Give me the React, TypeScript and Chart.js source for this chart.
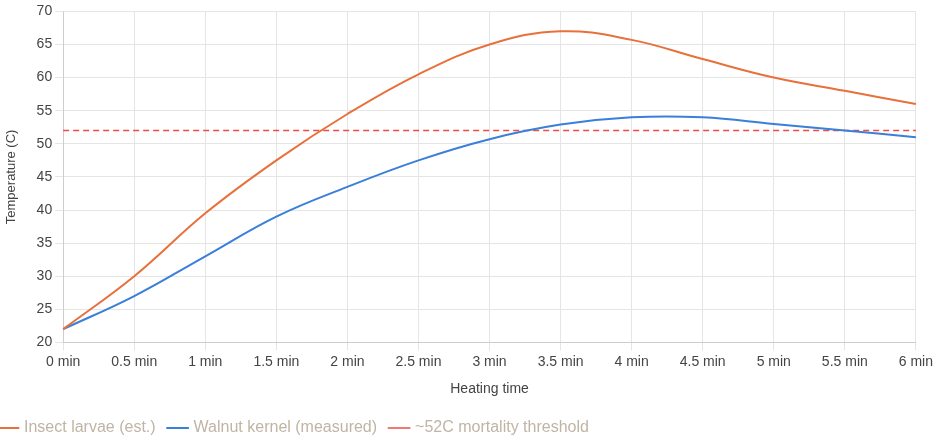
import React, { useEffect, useRef } from "react";
import { Chart, registerables } from "chart.js";
Chart.register(...registerables);

const labels = ["0 min","0.5 min","1 min","1.5 min","2 min","2.5 min","3 min","3.5 min","4 min","4.5 min","5 min","5.5 min","6 min"];
const larvae = [22, 30, 39.5, 47.5, 54.5, 60.5, 65, 67, 65.7, 62.8, 60, 58, 56];
const kernel = [22, 27, 33, 39, 43.5, 47.5, 50.7, 52.9, 54, 54, 53, 52, 51];
const threshold = labels.map(() => 52);

const F = "Helvetica, Arial, sans-serif";

export default function App() {
  const ref = useRef<HTMLCanvasElement>(null);
  useEffect(() => {
    document.body.style.margin = "0";
    const c = new Chart(ref.current!, {
      type: "line",
      data: {
        labels,
        datasets: [
          { label: "Insect larvae (est.)", data: larvae, borderColor: "#e8703a", backgroundColor: "#e8703a", borderWidth: 2, pointRadius: 0, tension: 0.4 },
          { label: "Walnut kernel (measured)", data: kernel, borderColor: "#3a7fd9", backgroundColor: "#3a7fd9", borderWidth: 2, pointRadius: 0, tension: 0.4 },
          { label: "~52C mortality threshold", data: threshold, borderColor: "#ee4b44", backgroundColor: "#ee4b44", borderWidth: 1.5, borderDash: [6, 4], pointRadius: 0 },
        ],
      },
      options: {
        animation: false,
        responsive: false,
        layout: { padding: { top: 8, right: 10 } },
        plugins: {
          legend: {
            position: "bottom",
            align: "start",
            labels: { usePointStyle: true, pointStyle: "line", color: "#c0b4a4", font: { size: 16, family: F }, boxWidth: 16, padding: 14 },
          },
          tooltip: { enabled: false },
        },
        scales: {
          x: {
            title: { display: true, text: "Heating time", color: "#444", font: { size: 14, family: F }, padding: { top: 8, bottom: 8 } },
            ticks: { color: "#444", font: { size: 14, family: F } },
            grid: { color: "#e5e5e5" },
          },
          y: {
            min: 20, max: 70,
            ticks: { stepSize: 5, color: "#444", font: { size: 14, family: F } },
            title: { display: true, text: "Temperature (C)", color: "#444", font: { size: 13, family: F }, padding: { top: 18, bottom: 4 } },
            grid: { color: "#e5e5e5" },
            afterFit: (s: any) => { s.width += 10; },
          },
        },
      },
    });
    return () => c.destroy();
  }, []);
  return <canvas ref={ref} width={950} height={446} style={{ display: "block", marginLeft: -14 }} />;
}
